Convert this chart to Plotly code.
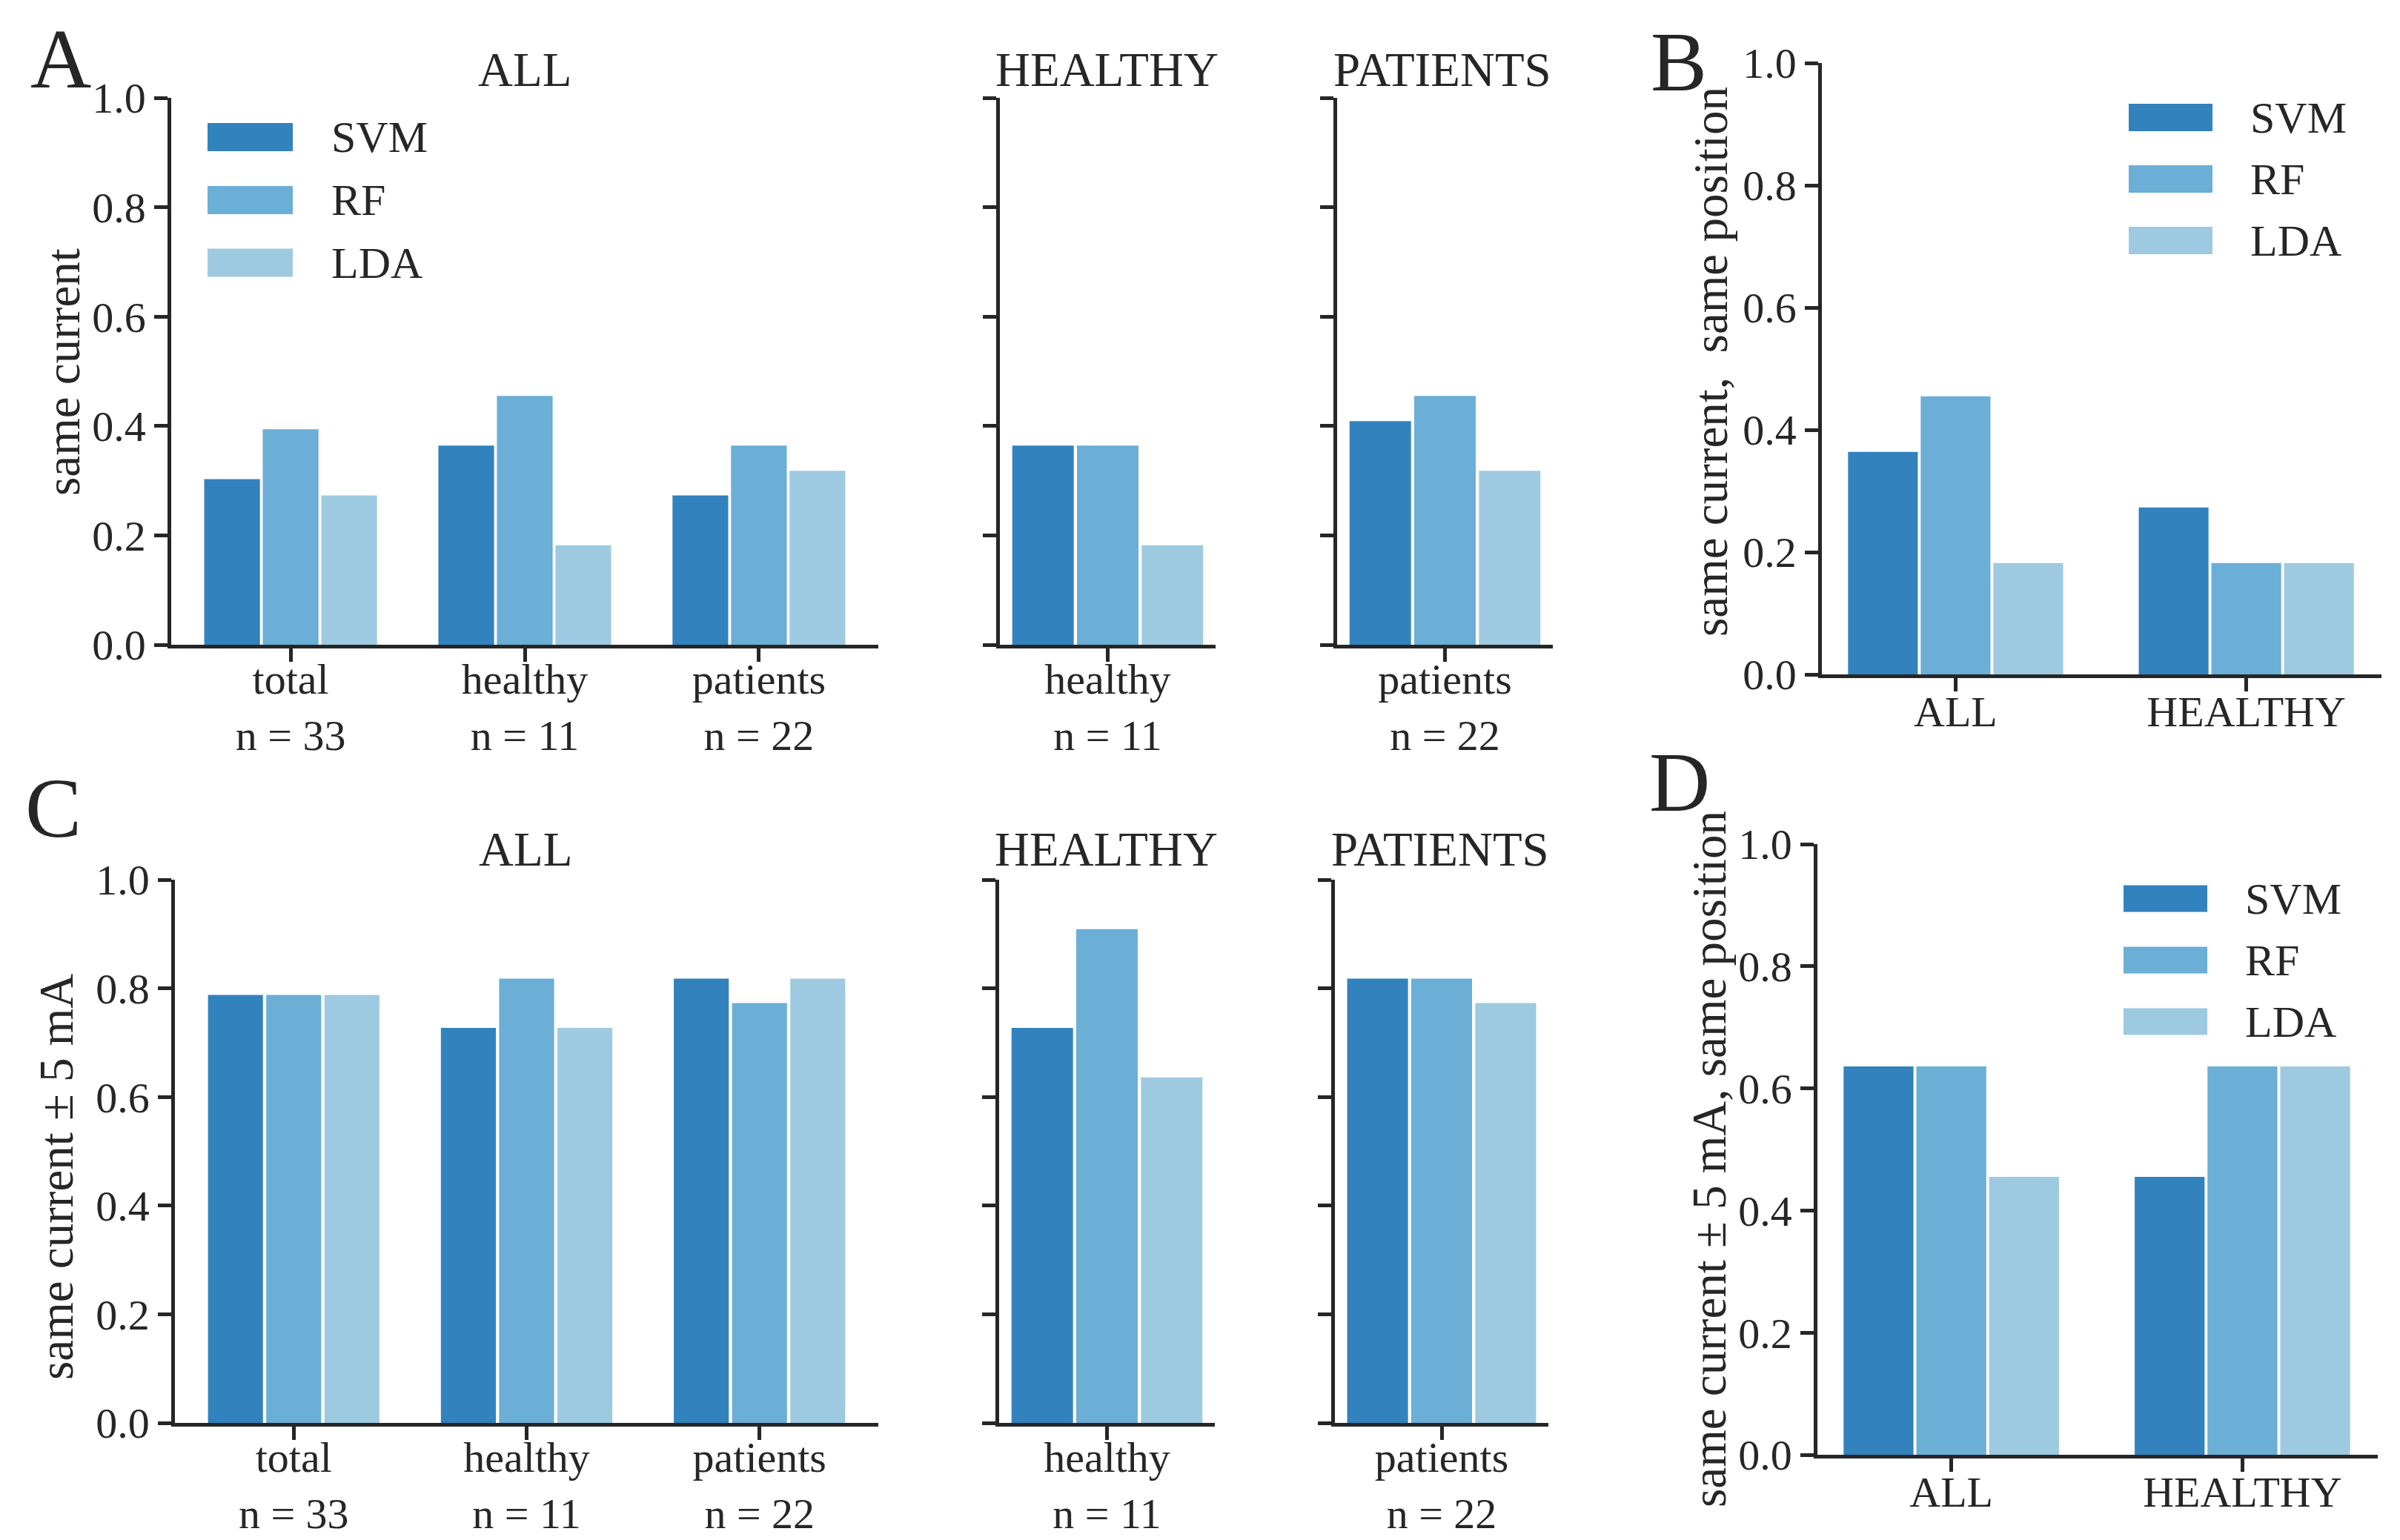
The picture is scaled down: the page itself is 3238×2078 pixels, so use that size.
import plotly.graph_objects as go

# ---------------- data ----------------
methods = ["SVM", "RF", "LDA"]
colors = ["#3182bd", "#6baed6", "#9ecae1"]

groups_all = ["total<br>n = 33", "healthy<br>n = 11", "patients<br>n = 22"]
group_healthy = ["healthy<br>n = 11"]
group_patients = ["patients<br>n = 22"]
groups_bd = ["ALL", "HEALTHY"]

# Panel A: same current
a_all_svm = [0.303, 0.364, 0.273]
a_all_rf = [0.394, 0.455, 0.364]
a_all_lda = [0.273, 0.182, 0.318]
a_healthy_svm = [0.364]
a_healthy_rf = [0.364]
a_healthy_lda = [0.182]
a_patients_svm = [0.409]
a_patients_rf = [0.455]
a_patients_lda = [0.318]

# Panel B: same current, same position
b_svm = [0.364, 0.273]
b_rf = [0.455, 0.182]
b_lda = [0.182, 0.182]

# Panel C: same current +- 5 mA
c_all_svm = [0.788, 0.727, 0.818]
c_all_rf = [0.788, 0.818, 0.773]
c_all_lda = [0.788, 0.727, 0.818]
c_healthy_svm = [0.727]
c_healthy_rf = [0.909]
c_healthy_lda = [0.636]
c_patients_svm = [0.818]
c_patients_rf = [0.818]
c_patients_lda = [0.773]

# Panel D: same current +- 5 mA, same position
d_svm = [0.636, 0.455]
d_rf = [0.636, 0.636]
d_lda = [0.455, 0.636]

y_ticks = [0.0, 0.2, 0.4, 0.6, 0.8, 1.0]

# ---------------- layout helpers ----------------
W, H = 3238, 2078
FONT = "Liberation Serif"
INK = "#262626"
TICK_SIZE = 58
TITLE_SIZE = 65
LABEL_SIZE = 65
LEGEND_SIZE = 60
LETTER_SIZE = 114


def fx(px):
    return px / W


def fy(py):
    return 1 - py / H


panels = [
    dict(x=(231, 1185), y=(132, 870), xr=[-0.51, 2.51], cats=groups_all,
         vals=(a_all_svm, a_all_rf, a_all_lda), pitch=0.25, bw=0.238, lab=True, so=-26),
    dict(x=(1349, 1640), y=(132, 870), xr=[-0.5, 0.5], cats=group_healthy,
         vals=(a_healthy_svm, a_healthy_rf, a_healthy_lda), pitch=0.30, bw=0.285, lab=False, so=-26),
    dict(x=(1804, 2095), y=(132, 870), xr=[-0.5, 0.5], cats=group_patients,
         vals=(a_patients_svm, a_patients_rf, a_patients_lda), pitch=0.30, bw=0.285, lab=False, so=-26),
    dict(x=(2458, 3213), y=(85, 910), xr=[-0.46, 1.465], cats=groups_bd,
         vals=(b_svm, b_rf, b_lda), pitch=0.25, bw=0.24, lab=True, so=-22),
    dict(x=(236, 1185), y=(1187, 1920), xr=[-0.51, 2.51], cats=groups_all,
         vals=(c_all_svm, c_all_rf, c_all_lda), pitch=0.25, bw=0.236, lab=True, so=-26),
    dict(x=(1348, 1639), y=(1187, 1920), xr=[-0.5, 0.5], cats=group_healthy,
         vals=(c_healthy_svm, c_healthy_rf, c_healthy_lda), pitch=0.30, bw=0.285, lab=False, so=-26),
    dict(x=(1801, 2089), y=(1187, 1920), xr=[-0.5, 0.5], cats=group_patients,
         vals=(c_patients_svm, c_patients_rf, c_patients_lda), pitch=0.30, bw=0.285, lab=False, so=-26),
    dict(x=(2452, 3208), y=(1139, 1963), xr=[-0.46, 1.465], cats=groups_bd,
         vals=(d_svm, d_rf, d_lda), pitch=0.25, bw=0.24, lab=True, so=-22),
]

fig = go.Figure()
layout = dict(
    template="none",
    width=W, height=H,
    margin=dict(l=0, r=0, t=0, b=0, pad=0, autoexpand=False),
    paper_bgcolor="white", plot_bgcolor="white",
    barmode="overlay", showlegend=False,
    font=dict(family=FONT, size=TICK_SIZE, color=INK),
)

for k, p in enumerate(panels, start=1):
    xa = "x" if k == 1 else f"x{k}"
    ya = "y" if k == 1 else f"y{k}"
    for i, m in enumerate(methods):
        fig.add_trace(go.Bar(
            x=p["cats"], y=p["vals"][i], name=m,
            width=p["bw"], offset=(i - 1) * p["pitch"] - p["bw"] / 2,
            marker=dict(color=colors[i], line=dict(width=0)),
            xaxis=xa, yaxis=ya, showlegend=False,
        ))
    axis_common = dict(
        showline=True, linecolor=INK, linewidth=4.5,
        ticks="outside", ticklen=18, tickwidth=4.5, tickcolor=INK,
        showgrid=False, zeroline=False, fixedrange=True, automargin=False,
        tickfont=dict(family=FONT, size=TICK_SIZE, color=INK),
    )
    layout["xaxis" if k == 1 else f"xaxis{k}"] = dict(
        axis_common, domain=[fx(p["x"][0]), fx(p["x"][1])],
        anchor=ya, type="category", range=p["xr"], ticklabelstandoff=p["so"],
    )
    layout["yaxis" if k == 1 else f"yaxis{k}"] = dict(
        axis_common, domain=[fy(p["y"][1]), fy(p["y"][0])],
        anchor=xa, range=[0, 1], tickvals=y_ticks, tickformat=".1f",
        showticklabels=p["lab"],
    )

annotations = []
shapes = []


def text(x, y, t, size, xanchor="center", angle=0):
    annotations.append(dict(
        x=fx(x), y=fy(y), xref="paper", yref="paper", text=t, showarrow=False,
        xanchor=xanchor, yanchor="middle", textangle=angle,
        font=dict(family=FONT, size=size, color=INK),
    ))


# panel titles
for (x, y, t) in [(708, 94, "ALL"), (1493, 94, "HEALTHY"), (1946, 94, "PATIENTS"),
                  (709, 1146, "ALL"), (1492, 1146, "HEALTHY"), (1943, 1146, "PATIENTS")]:
    text(x, y, t, TITLE_SIZE)

# panel letters
for (x, y, t) in [(82, 80, "A"), (2265, 84, "B"), (72, 1090, "C"), (2266, 1055, "D")]:
    text(x, y, t, LETTER_SIZE)

# y-axis labels
text(85, 502, "same current", LABEL_SIZE, angle=-90)
text(2308, 488, "same current,\u00a0 same position", LABEL_SIZE, angle=-90)
text(76, 1588, "same current ± 5 mA", LABEL_SIZE, angle=-90)
text(2306, 1564, "same current ± 5 mA, same position", LABEL_SIZE, angle=-90)

# legends (swatch rectangles + labels)
legend_specs = [
    dict(x0=280, x1=395, tx=445, ys=[185, 270, 354.5], h=38),
    dict(x0=2872, x1=2985, tx=3034, ys=[158.5, 241.5, 324.5], h=37),
    dict(x0=2865, x1=2978, tx=3027, ys=[1212.5, 1295.5, 1378.5], h=36),
]
for L in legend_specs:
    for i, m in enumerate(methods):
        yc = L["ys"][i]
        shapes.append(dict(
            type="rect", xref="paper", yref="paper",
            x0=fx(L["x0"]), x1=fx(L["x1"]),
            y0=fy(yc + L["h"] / 2), y1=fy(yc - L["h"] / 2),
            fillcolor=colors[i], line=dict(width=0),
        ))
        text(L["tx"], yc, m, LEGEND_SIZE, xanchor="left")

layout["annotations"] = annotations
layout["shapes"] = shapes
fig.update_layout(**layout)

fig.write_html(
    "out.html",
    config={"displayModeBar": False},
    post_script="document.body.style.margin='0px';document.body.style.overflow='hidden';",
)
